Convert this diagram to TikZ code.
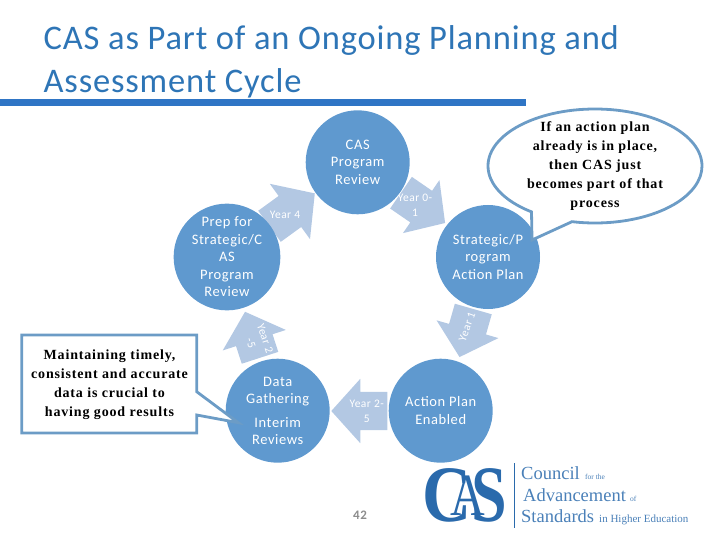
\documentclass[tikz,border=0pt]{standalone}
\usepackage{fontspec}
\setmainfont{Carlito}
\newfontfamily\titlefont{Carlito}[LetterSpace=2.4]
\newfontfamily\circfont{Carlito}[LetterSpace=4]
\newfontfamily\notefont{Liberation Serif}[LetterSpace=6]
\newfontfamily\logofont{Liberation Serif}
\usetikzlibrary{shapes.arrows,shapes.callouts}
\definecolor{circblue}{HTML}{5F99CF}
\definecolor{arrowblue}{HTML}{B3C8E3}
\definecolor{titleblue}{HTML}{2E75B6}
\definecolor{barblue}{HTML}{2F75C5}
\definecolor{noteblue}{HTML}{6C9CC6}
\definecolor{logoblue}{HTML}{2A6AAC}
\tikzset{
  stage/.style={circle,fill=circblue,minimum size=104pt,inner sep=0pt,text=white,align=center,
    font=\circfont\fontsize{14.5}{17.5}\selectfont},
  yeararrow/.style={single arrow,fill=arrowblue,anchor=tail,inner sep=0pt,outer sep=0pt,
    text height=19pt,text depth=19pt,single arrow tip angle=96,single arrow head extend=13pt},
  yearlabel/.style={text=white,align=center,inner sep=0pt,font=\circfont\fontsize{11.5}{15}\selectfont},
  note/.style={text=black,align=center,inner sep=0pt,font=\notefont\bfseries\fontsize{14}{19}\selectfont},
  noteline/.style={draw=noteblue,line width=2.8pt,fill=white},
  titletext/.style={anchor=base west,inner sep=0pt,text=titleblue,font=\titlefont\fontsize{34.5}{43.4}\selectfont},
  logotext/.style={anchor=base west,inner sep=0pt,text=logoblue!85!white},
}
\begin{document}
\begin{tikzpicture}[x=1pt,y=-1pt]
\useasboundingbox (0,0) rectangle (720,540);
% titre
\node[titletext] (title1) at (43.5,49.5) {CAS as Part of an Ongoing Planning and};
\node[titletext] (title2) at (43.5,92.5) {Assessment Cycle};
\fill[barblue] (0,99) rectangle (526,106);
% fleches
\node[yeararrow,rotate=-34.5,minimum height=53.5pt] (y01) at (401,192.7) {};
\node[yeararrow,rotate=-106,minimum height=50pt] (y1) at (473.3,309) {};
\node[yeararrow,rotate=180,minimum height=56pt] (y25) at (387.3,411) {};
\node[yeararrow,rotate=108,minimum height=48.4pt,single arrow head extend=14pt] (y2) at (260,357.8) {};
\node[yeararrow,rotate=36,minimum height=56pt,single arrow head extend=15pt] (y4) at (269.5,226.3) {};
\node[yearlabel] (ly01) at (415,205) {Year 0-\\1};
\node[yearlabel,rotate=70] (ly1) at (467,326.7) {Year 1};
\node[yearlabel] (ly25) at (366.7,411) {Year 2-\\5};
\node[yearlabel,rotate=-72] (ly2) at (258,340.7) {Year 2\\-5};
\node[yearlabel] (ly4) at (285,215) {Year 4};
% cercles
\node[stage] (cas) at (357.7,162.3) {CAS\\Program\\Review};
\node[stage] (strat) at (488,257) {Strategic/P\\rogram\\Action Plan};
\node[stage] (action) at (440.7,410.7) {Action Plan\\Enabled};
\node[stage] (data) at (277.7,410.7) {Data\\Gathering\\[6pt]Interim\\Reviews};
\node[stage] (prep) at (227,257) {Prep for\\Strategic/C\\AS\\Program\\Review};
% bulles
\node[ellipse callout,noteline,minimum width=214pt,minimum height=114pt,inner sep=0pt,
  callout absolute pointer={(532,240)},callout pointer arc=24] (bubble) at (595,166) {};
\node[note] (bubbletxt) at (595,166.5) {If an action plan\\already is in place,\\then CAS just\\becomes part of that\\process};
\coordinate (tip) at (238.3,422.7);
\draw[noteline,line join=miter] (21.7,335) -- (196.7,335) -- (196.7,391.7) -- (tip) -- (196.7,415) -- (196.7,433) -- (21.7,433) -- cycle;
\node[note] (boxtxt) at (109.5,384.5) {Maintaining timely,\\consistent and accurate\\data is crucial to\\having good results};
\node[text=gray!90,font=\circfont\bfseries\fontsize{13}{15}\selectfont,inner sep=0pt] (page) at (360,515) {42};
% logo
\node[inner sep=0pt,text=logoblue,font=\logofont\bfseries\fontsize{80}{80}\selectfont,xscale=.85] (logoc) at (447,495) {C};
\node[inner sep=0pt,text=logoblue,font=\logofont\fontsize{60}{60}\selectfont,xscale=.8] (logoa) at (468,496) {A};
\node[inner sep=0pt,text=logoblue,font=\logofont\bfseries\fontsize{80}{80}\selectfont,xscale=.8] (logos) at (489,495) {S};
\draw[logoblue,line width=1pt] (514.7,463) -- (514.7,527.7);
\node[logotext,font=\logofont\fontsize{18.5}{20}\selectfont] (l1) at (521,479) {Council};
\node[logotext,font=\logofont\fontsize{7.5}{9}\selectfont] (l1b) at (585,479) {for the};
\node[logotext,font=\logofont\fontsize{18.5}{20}\selectfont] (l2) at (523,501.7) {Advancement};
\node[logotext,font=\logofont\fontsize{7.5}{9}\selectfont] (l2b) at (630,501.7) {of};
\node[logotext,font=\logofont\fontsize{18.5}{20}\selectfont] (l3) at (521,522.7) {Standards};
\node[logotext,font=\logofont\fontsize{11}{12}\selectfont] (l3b) at (599,522.7) {in Higher Education};
\end{tikzpicture}
\end{document}
